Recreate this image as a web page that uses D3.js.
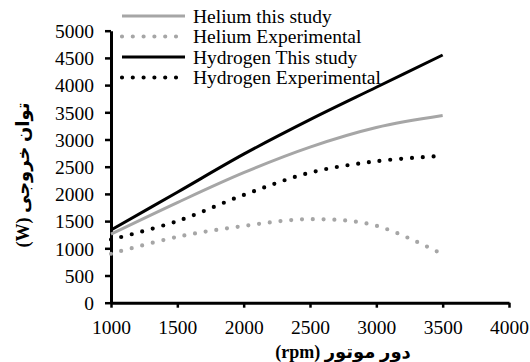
<!DOCTYPE html>
<html>
<head>
<meta charset="utf-8">
<script src="https://cdn.jsdelivr.net/npm/d3@7"></script>
<style>
  html, body { margin: 0; padding: 0; background: #fff; }
  svg { display: block; }
  text { font-family: "Liberation Serif", "DejaVu Serif", serif; fill: #000; }
  .ar { font-family: "Liberation Serif", "DejaVu Sans", serif; font-weight: bold; }
</style>
</head>
<body>
<svg id="chart" width="530" height="362"></svg>
<script>
// Engine speed (rpm) and output power (W)
const rpm = [1000, 1500, 2000, 2500, 3000, 3500];
const heliumStudy = [1260, 1840, 2390, 2860, 3220, 3440];
const heliumExp = [900, 1210, 1410, 1535, 1415, 890];
const hydrogenStudy = [1336, 2030, 2730, 3365, 3960, 4553];
const hydrogenExp = [1160, 1500, 1980, 2390, 2600, 2700];

const xTicks = [1000, 1500, 2000, 2500, 3000, 3500, 4000];
const yTicks = [0, 500, 1000, 1500, 2000, 2500, 3000, 3500, 4000, 4500, 5000];

const seriesNames = ["Helium this study", "Helium Experimental", "Hydrogen This study", "Hydrogen Experimental"];
const seriesValues = [heliumStudy, heliumExp, hydrogenStudy, hydrogenExp];
const seriesColor = ["#a6a6a6", "#a6a6a6", "#000000", "#000000"];
const seriesDotted = [false, true, false, true];

const svg = d3.select("#chart");
const x = d3.scaleLinear().domain([1000, 4000]).range([111, 509]);
const y = d3.scaleLinear().domain([0, 5000]).range([302.7, 30.7]);

// Axes
const xAxis = svg.append("g").attr("transform", `translate(0,${y(0)})`)
  .call(d3.axisBottom(x).tickValues(xTicks).tickFormat(d3.format("d")).tickSize(5).tickSizeOuter(0));
const yAxis = svg.append("g").attr("transform", `translate(${x(1000)},0)`)
  .call(d3.axisLeft(y).tickValues(yTicks).tickFormat(d3.format("d")).tickSize(6).tickSizeOuter(0));

[xAxis, yAxis].forEach(g => {
  g.attr("font-family", null).attr("font-size", null);
  g.select(".domain").attr("stroke", "#000").attr("stroke-width", 3);
  g.selectAll(".tick line").attr("stroke", "#000").attr("stroke-width", 2.5);
  g.selectAll(".tick text").attr("font-family", "Liberation Serif").style("font-size", "19.5px").attr("fill", "#000");
});
xAxis.selectAll(".tick text").attr("y", 24.5).attr("dy", "0.35em");
yAxis.selectAll(".tick text").attr("x", -17).attr("dy", "0.35em");

// Series lines
const line = d3.line().x((d, i) => x(rpm[i])).y(d => y(d)).curve(d3.curveCardinal.tension(0));
seriesValues.forEach((vals, k) => {
  const p = svg.append("path").datum(vals)
    .attr("d", line)
    .attr("fill", "none")
    .attr("stroke", seriesColor[k]);
  if (seriesDotted[k]) {
    p.attr("stroke-width", 4.2).attr("stroke-linecap", "round").attr("stroke-dasharray", "0 10.8");
  } else {
    p.attr("stroke-width", 3);
  }
});

// Legend
const legendY = [16, 36.5, 57, 77.5];
seriesNames.forEach((name, k) => {
  const ly = legendY[k];
  const s = svg.append("line")
    .attr("x1", 122).attr("x2", 185).attr("y1", ly).attr("y2", ly)
    .attr("stroke", seriesColor[k]);
  if (seriesDotted[k]) {
    s.attr("stroke-width", 4.2).attr("stroke-linecap", "round").attr("stroke-dasharray", "0 10.8");
  } else {
    s.attr("stroke-width", 3);
  }
  svg.append("text").attr("x", 193).attr("y", ly).attr("dy", "0.35em")
    .style("font-size", "19.5px").text(name);
});

// Axis titles (right-to-left text)
svg.append("text").attr("class", "ar")
  .attr("x", 343).attr("y", 352).attr("dy", "0.35em")
  .attr("direction", "rtl").style("unicode-bidi", "embed")
  .attr("text-anchor", "middle").style("font-size", "18px")
  .text("دور موتور (rpm)");

svg.append("text").attr("class", "ar")
  .attr("transform", "translate(23,175) rotate(-90)")
  .attr("dy", "0.35em")
  .attr("direction", "rtl").style("unicode-bidi", "embed")
  .attr("text-anchor", "middle").style("font-size", "18px")
  .text("توان خروجی (W)");
</script>
</body>
</html>
